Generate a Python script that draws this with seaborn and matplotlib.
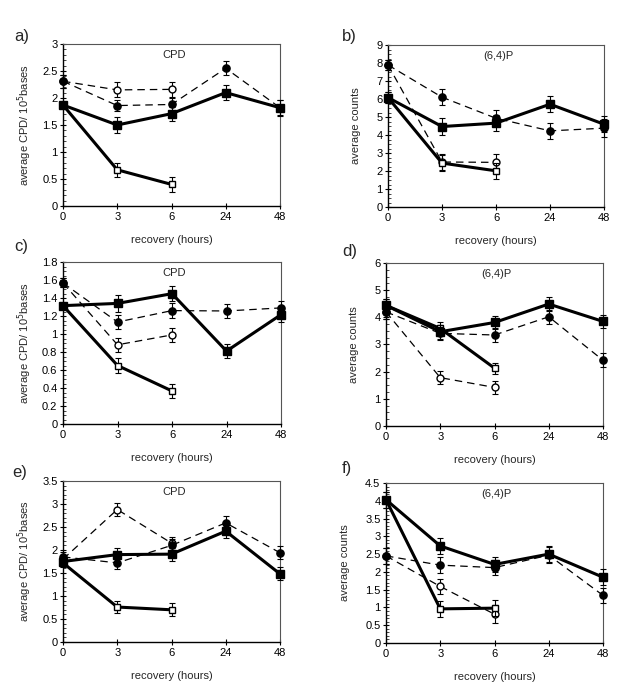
import numpy as np
import pandas as pd
import matplotlib
matplotlib.use("Agg")
import matplotlib.pyplot as plt
from matplotlib.ticker import MultipleLocator
import seaborn as sns

sns.set_theme(style="white")
plt.rcParams['font.family'] = ['Liberation Sans', 'DejaVu Sans']

times = ["0", "3", "6", "24", "48"]

# Panel a (CPD)
a_fsq = [1.87, 1.50, 1.71, 2.10, 1.82]
a_fsq_err = [0.05, 0.14, 0.13, 0.14, 0.14]
a_osq = [1.87, 0.67, 0.40]
a_osq_err = [0.05, 0.13, 0.14]
a_fci = [2.31, 1.86, 1.88, 2.55, 1.82]
a_fci_err = [0.12, 0.10, 0.12, 0.13, 0.15]
a_oci = [2.31, 2.15, 2.16]
a_oci_err = [0.12, 0.14, 0.14]

# Panel b ((6,4)P)
b_fsq = [6.08, 4.47, 4.66, 5.71, 4.60]
b_fsq_err = [0.3, 0.45, 0.45, 0.45, 0.45]
b_osq = [6.08, 2.44, 2.01]
b_osq_err = [0.3, 0.45, 0.45]
b_fci = [7.89, 6.10, 4.93, 4.23, 4.38]
b_fci_err = [0.3, 0.45, 0.45, 0.43, 0.5]
b_oci = [7.89, 2.50, 2.48]
b_oci_err = [0.3, 0.45, 0.45]

# Panel c (CPD)
c_fsq = [1.315, 1.34, 1.448, 0.81, 1.215]
c_fsq_err = [0.03, 0.09, 0.08, 0.08, 0.08]
c_osq = [1.315, 0.65, 0.367]
c_osq_err = [0.03, 0.08, 0.083]
c_fci = [1.567, 1.133, 1.26, 1.256, 1.29]
c_fci_err = [0.05, 0.08, 0.08, 0.08, 0.08]
c_oci = [1.567, 0.88, 0.99]
c_oci_err = [0.05, 0.08, 0.08]

# Panel d ((6,4)P)
d_fsq = [4.44, 3.47, 3.81, 4.49, 3.85]
d_fsq_err = [0.25, 0.25, 0.25, 0.25, 0.25]
d_osq = [4.44, 3.59, 2.13]
d_osq_err = [0.25, 0.25, 0.2]
d_fci = [4.20, 3.41, 3.35, 4.02, 2.42]
d_fci_err = [0.25, 0.25, 0.25, 0.25, 0.25]
d_oci = [4.20, 1.78, 1.42]
d_oci_err = [0.25, 0.25, 0.25]

# Panel e (CPD)
e_fsq = [1.75, 1.90, 1.91, 2.41, 1.48]
e_fsq_err = [0.1, 0.14, 0.14, 0.14, 0.14]
e_osq = [1.72, 0.76, 0.70]
e_osq_err = [0.1, 0.14, 0.14]
e_fci = [1.85, 1.72, 2.10, 2.59, 1.94]
e_fci_err = [0.1, 0.14, 0.14, 0.14, 0.14]
e_oci = [1.80, 2.88, 2.15]
e_oci_err = [0.1, 0.14, 0.14]

# Panel f ((6,4)P)
f_fsq = [4.03, 2.73, 2.21, 2.50, 1.85]
f_fsq_err = [0.22, 0.22, 0.22, 0.22, 0.22]
f_osq = [4.03, 0.96, 0.98]
f_osq_err = [0.22, 0.22, 0.22]
f_fci = [2.45, 2.19, 2.12, 2.47, 1.34]
f_fci_err = [0.22, 0.22, 0.22, 0.22, 0.22]
f_oci = [2.45, 1.59, 0.81]
f_oci_err = [0.22, 0.22, 0.25]

panel_labels = ["a)", "b)", "c)", "d)", "e)", "f)"]
panel_titles = ["CPD", "(6,4)P", "CPD", "(6,4)P", "CPD", "(6,4)P"]
ymax = [3, 9, 1.8, 6, 3.5, 4.5]
ymajor = [0.5, 1, 0.2, 1, 0.5, 0.5]
yminor = [0.1, 0.25, 0.05, 0.25, 0.1, 0.1]

panels = [
    (a_fsq, a_fsq_err, a_osq, a_osq_err, a_fci, a_fci_err, a_oci, a_oci_err),
    (b_fsq, b_fsq_err, b_osq, b_osq_err, b_fci, b_fci_err, b_oci, b_oci_err),
    (c_fsq, c_fsq_err, c_osq, c_osq_err, c_fci, c_fci_err, c_oci, c_oci_err),
    (d_fsq, d_fsq_err, d_osq, d_osq_err, d_fci, d_fci_err, d_oci, d_oci_err),
    (e_fsq, e_fsq_err, e_osq, e_osq_err, e_fci, e_fci_err, e_oci, e_oci_err),
    (f_fsq, f_fsq_err, f_osq, f_osq_err, f_fci, f_fci_err, f_oci, f_oci_err),
]

# axes rectangles in pixels (layout only)
W, H = 637, 696
rects_px = [
    (63, 44, 280, 206), (388, 45, 604, 207),
    (63, 262, 281, 424), (386, 263, 603, 426),
    (63, 481, 280, 642), (386, 483, 603, 643),
]
label_px = [(14, 36), (342, 36), (14, 247), (342, 252), (12, 472), (342, 468)]

fig = plt.figure(figsize=(W / 100, H / 100), dpi=100)
fig.patch.set_facecolor("white")

# draw order: open circles, open squares, filled circles, filled squares
series_styles = [
    ("oci", "o", "white", (0, (6, 4)), 0.9, 5.0),
    ("osq", "s", "white", "-", 2.2, 5.0),
    ("fci", "o", "black", (0, (6, 4)), 0.9, 5.2),
    ("fsq", "s", "black", "-", 2.2, 5.2),
]

for i, (vals, (l, t, r, b)) in enumerate(zip(panels, rects_px)):
    ax = fig.add_axes([l / W, 1 - b / H, (r - l) / W, (b - t) / H])
    fsq, fsq_e, osq, osq_e, fci, fci_e, oci, oci_e = vals
    series = {
        "fsq": (fsq, fsq_e), "osq": (osq, osq_e),
        "fci": (fci, fci_e), "oci": (oci, oci_e),
    }
    for z, (key, mk, fc, ls, lw, ms) in enumerate(series_styles):
        y, e = series[key]
        df = pd.DataFrame({"x": np.arange(len(y)), "y": y, "e": e})
        ax.errorbar(df["x"], df["y"], yerr=df["e"], fmt="none", ecolor="black",
                    elinewidth=0.8, capsize=2, capthick=0.8, clip_on=False, zorder=2 + z)
        sns.lineplot(data=df, x="x", y="y", ax=ax, color="black", linestyle=ls,
                     linewidth=lw, marker=mk, markersize=ms, markerfacecolor=fc,
                     markeredgecolor="black", markeredgewidth=1.0, clip_on=False,
                     zorder=3 + z, legend=False)
    ax.set_xlim(0, 4)
    ax.set_ylim(0, ymax[i])
    ax.set_xticks(range(len(times)))
    ax.set_xticklabels(times)
    ax.yaxis.set_major_locator(MultipleLocator(ymajor[i]))
    ax.yaxis.set_minor_locator(MultipleLocator(yminor[i]))
    ax.yaxis.set_major_formatter(matplotlib.ticker.FuncFormatter(lambda v, p: "{:g}".format(round(v, 2))))
    ax.tick_params(axis="both", which="major", direction="inout", length=5, width=0.8,
                   labelsize=8, pad=1.5, colors="black", left=True, bottom=True)
    ax.tick_params(axis="y", which="minor", direction="in", length=2.5, width=0.6, left=True)
    for s in ["left", "bottom"]:
        ax.spines[s].set_color("black")
        ax.spines[s].set_linewidth(1.0)
    for s in ["top", "right"]:
        ax.spines[s].set_color("#555555")
        ax.spines[s].set_linewidth(0.8)
    ax.set_xlabel("recovery (hours)", fontsize=8, labelpad=10)
    if i % 2 == 0:
        ax.set_ylabel(r"average CPD/ 10$^5$bases", fontsize=8, labelpad=6)
    else:
        ax.set_ylabel("average counts", fontsize=8, labelpad=11)
    ax.text(0.51, 0.93, panel_titles[i], transform=ax.transAxes, ha="center",
            va="center", fontsize=8)
    ax.set_facecolor("white")
    lx, ly = label_px[i]
    fig.text(lx / W, 1 - ly / H, panel_labels[i], fontsize=12, ha="left", va="center")

fig.savefig("out.png", dpi=100, facecolor="white")
